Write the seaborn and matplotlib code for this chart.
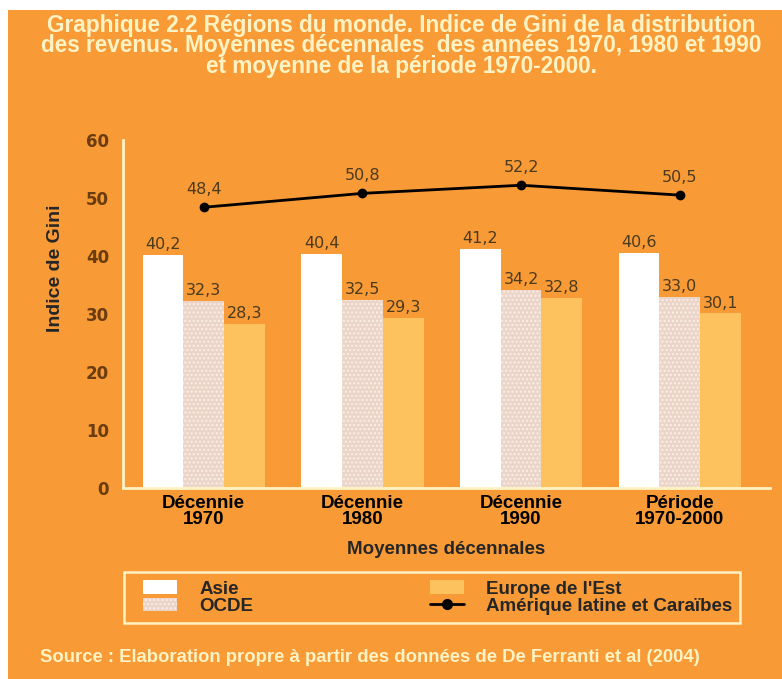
import matplotlib
matplotlib.use("Agg")
import matplotlib.pyplot as plt
import pandas as pd
import seaborn as sns
from matplotlib.patches import Patch, Rectangle
from matplotlib.lines import Line2D

# Data
periodes = ["Décennie\n1970", "Décennie\n1980", "Décennie\n1990", "Période\n1970-2000"]
asie = [40.2, 40.4, 41.2, 40.6]
ocde = [32.3, 32.5, 34.2, 33.0]
europe_est = [28.3, 29.3, 32.8, 30.1]
amerique_latine = [48.4, 50.8, 52.2, 50.5]

series = ["Asie", "OCDE", "Europe de l'Est"]
ORANGE = "#F89A35"
CREAM = "#FFF3C4"
VALCOL = "#4A3A1E"
palette = {"Asie": "#FFFFFF", "OCDE": "#EBD5C8", "Europe de l'Est": "#FDC15E"}

df = pd.DataFrame({
    "periode": periodes * 3,
    "serie": [s for s in series for _ in periodes],
    "valeur": asie + ocde + europe_est,
})

sns.set_style("white")
plt.rcParams["font.family"] = ["Liberation Sans", "DejaVu Sans"]

fig = plt.figure(figsize=(7.82, 6.79), dpi=100, facecolor="white")
fig.patches.append(Rectangle((8 / 782, 0), 1, 1 - 10 / 679, transform=fig.transFigure,
                             facecolor=ORANGE, edgecolor="none", zorder=-10))

ax = fig.add_axes([0.157, 0.2813, 0.828, 0.5125])
ax.set_facecolor(ORANGE)

sns.barplot(data=df, x="periode", y="valeur", hue="serie", order=periodes,
            hue_order=series, palette=palette, width=0.77, saturation=1,
            edgecolor="none", legend=False, ax=ax)

# dotted pattern on OCDE bars
for bar in ax.containers[1]:
    bar.set_hatch("....")
    bar.set_edgecolor("#FBEFE8")
    bar.set_linewidth(0)

for cont in ax.containers:
    ax.bar_label(cont, labels=[f"{v:.1f}".replace(".", ",") for v in cont.datavalues],
                 padding=2, fontsize=11.5, color=VALCOL, family="DejaVu Sans")

sns.pointplot(x=periodes, y=amerique_latine, color="black", markers="o",
              markersize=5.5, linewidth=2, ax=ax)
for i, v in enumerate(amerique_latine):
    ax.text(i, v + 1.8, f"{v:.1f}".replace(".", ","), ha="center", va="bottom",
            fontsize=11.5, color=VALCOL, family="DejaVu Sans")

ax.set_ylim(0, 60)
ax.set_xlim(-0.51, 3.57)
ax.set_yticks(range(0, 61, 10))
ax.tick_params(axis="y", labelsize=12, labelcolor="#6A3C10", pad=10, length=0)
for lab in ax.get_yticklabels():
    lab.set_family("DejaVu Sans")
    lab.set_fontweight("bold")
ax.tick_params(axis="x", labelsize=13.5, labelcolor="black", pad=5, length=0)
for lab in ax.get_xticklabels():
    lab.set_fontweight("bold")
    lab.set_linespacing(0.95)

for side in ["top", "right"]:
    ax.spines[side].set_visible(False)
for side in ["left", "bottom"]:
    ax.spines[side].set_color(CREAM)
    ax.spines[side].set_linewidth(2)

ax.set_xlabel("Moyennes décennales", fontsize=13.5, fontweight="bold", labelpad=9)
ax.set_ylabel("Indice de Gini", fontsize=14, fontweight="bold")
ax.yaxis.set_label_coords(-0.090, 0.632)

fig.text(0.513, 0.98,
         "Graphique 2.2 Régions du monde. Indice de Gini de la distribution\n"
         "des revenus. Moyennes décennales  des années 1970, 1980 et 1990\n"
         "et moyenne de la période 1970-2000.",
         ha="center", va="top", fontsize=16.3, fontweight="bold", color=CREAM,
         linespacing=0.88)

fig.text(0.051, 0.032,
         "Source : Elaboration propre à partir des données de De Ferranti et al (2004)",
         ha="left", va="center", fontsize=13.3, fontweight="bold", color=CREAM)

# legend frame drawn separately so the entries can sit further inside it
fig.patches.append(Rectangle((0.158, 0.0825), 0.788, 0.075, transform=fig.transFigure,
                             facecolor="none", edgecolor=CREAM, linewidth=1.8))

handles = [
    Patch(facecolor=palette["Asie"], edgecolor="none", label="Asie"),
    Patch(facecolor=palette["OCDE"], edgecolor="#FBEFE8", hatch="....", linewidth=0, label="OCDE"),
    Patch(facecolor=palette["Europe de l'Est"], edgecolor="none", label="Europe de l'Est"),
    Line2D([], [], color="black", marker="o", markersize=7, linewidth=2,
           label="Amérique latine et Caraïbes"),
]
leg = fig.legend(handles=handles, loc="center", ncol=2, mode="expand",
                 bbox_to_anchor=(0.183, 0.0825, 0.754, 0.075),
                 prop={"weight": "bold", "size": 13.5}, frameon=False,
                 handlelength=1.8, handleheight=0.75,
                 handletextpad=1.2, labelspacing=0.0, borderpad=0.0,
                 borderaxespad=0)

fig.savefig("out.png", dpi=100, facecolor=fig.get_facecolor())
